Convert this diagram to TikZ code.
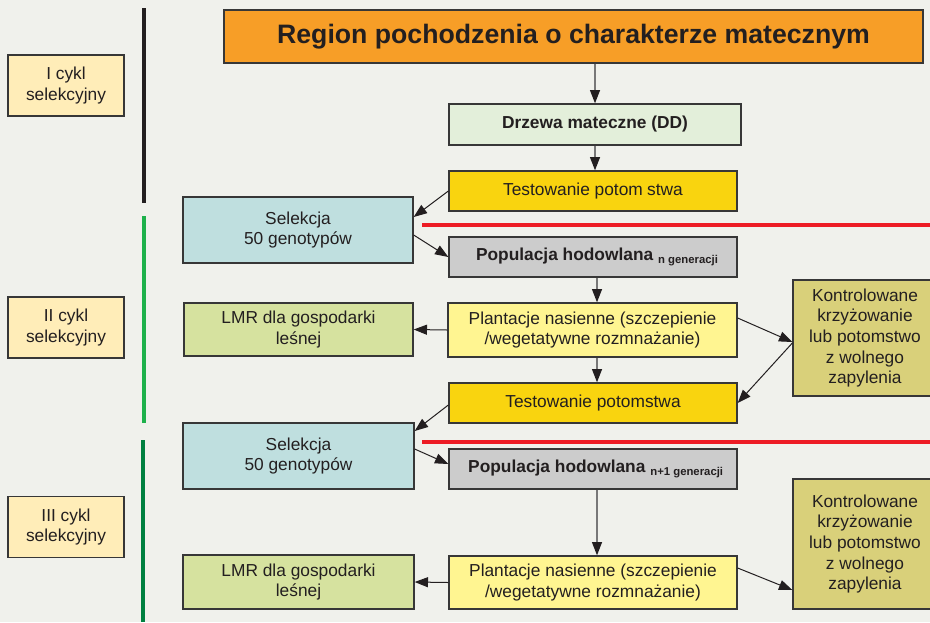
\documentclass[tikz,border=0pt]{standalone}
\usepackage{fontspec}
\setmainfont{Liberation Sans}
\usetikzlibrary{arrows.meta,calc}

\definecolor{bg}{RGB}{240,241,236}
\definecolor{ink}{RGB}{35,31,32}
\definecolor{boxline}{RGB}{55,55,55}
\definecolor{stem}{RGB}{120,120,120}
\definecolor{titleorange}{RGB}{247,158,39}
\definecolor{ddgreen}{RGB}{227,239,218}
\definecolor{testyellow}{RGB}{249,212,15}
\definecolor{selblue}{RGB}{191,223,223}
\definecolor{popgrey}{RGB}{204,204,204}
\definecolor{plantyellow}{RGB}{255,245,145}
\definecolor{lmrgreen}{RGB}{214,226,159}
\definecolor{kontrtan}{RGB}{217,208,122}
\definecolor{cyclecream}{RGB}{255,237,184}
\definecolor{cutred}{RGB}{237,28,37}
\definecolor{cycleone}{RGB}{35,31,32}
\definecolor{cycletwo}{RGB}{29,177,75}
\definecolor{cyclethree}{RGB}{0,128,64}

\begin{document}
\begin{tikzpicture}[x=0.75pt,y=-0.75pt,
  box/.style={draw=boxline, line width=1pt, text=ink, align=center,
    inner sep=0pt, font=\fontsize{13}{15.5}\selectfont},
  sz/.style 2 args={minimum width=#1*0.75pt, minimum height=#2*0.75pt},
  flow/.style={draw=ink, line width=0.75pt,
    -{Triangle[length=10pt,width=7.5pt,color=ink]}},
  stemarrow/.style={draw=stem, line width=1pt,
    -{Triangle[length=10pt,width=7.5pt,color=ink]}},
  cycleline/.style={line width=3pt},
  cutline/.style={draw=cutred, line width=2.5pt}
]
% canvas
\fill[bg] (0,0) rectangle (930,622);
\useasboundingbox (0,0) rectangle (930,622);
\clip (0,0) rectangle (930,622);

% cycle markers on the left
\draw[cycleline, cycleone]   (144,8)   -- (144,203);
\draw[cycleline, cycletwo]   (144,216) -- (144,423);
\draw[cycleline, cyclethree] (143,440) -- (143,622);

\node[box, sz={116}{61}, fill=cyclecream] (c1) at (66,85.5)  {I cykl\\selekcyjny};
\node[box, sz={116}{61}, fill=cyclecream] (c2) at (66,327.5) {II cykl\\selekcyjny};
\node[box, sz={116}{61}, fill=cyclecream] (c3) at (66,527)   {III cykl\\selekcyjny};

% cut lines between cycles
\coordinate (r1a) at (422,225);
\coordinate (r1b) at (930,225);
\coordinate (r2a) at (422,442);
\coordinate (r2b) at (930,442);
\draw[cutline] (r1a) -- (r1b);
\draw[cutline] (r2a) -- (r2b);

% main flow boxes
\node[box, sz={699}{53}, fill=titleorange, font=\fontsize{20}{24}\selectfont\bfseries]
  (title) at (573.5,36.5) {Region pochodzenia o charakterze matecznym};
\node[box, sz={292}{41}, fill=ddgreen, font=\fontsize{13}{15.5}\selectfont\bfseries]
  (dd) at (595,124.5) {Drzewa mateczne (DD)};
\node[box, sz={288}{40}, fill=testyellow] (test1) at (593,191) {Testowanie potom\hspace{0.25em}stwa};
\node[box, sz={230}{66}, fill=selblue] (sel1) at (298,230) {Selekcja\\50 genotypów};
\node[box, sz={288}{40}, fill=popgrey] (pop1) at (593,257)
  {\hspace*{6pt}\textbf{Populacja hodowlana} \raisebox{-2.5pt}{\fontsize{8.5}{10}\selectfont\bfseries n generacji}};
\node[box, sz={289}{54}, fill=plantyellow] (plant1) at (592.5,330)
  {Plantacje nasienne (szczepienie\\/wegetatywne rozmnażanie)};
\node[box, sz={229}{53}, fill=lmrgreen] (lmr1) at (298.5,329.5) {LMR dla gospodarki\\leśnej};
\node[box, sz={144}{116}, fill=kontrtan] (kontr1) at (865,338)
  {Kontrolowane\\krzyżowanie\\lub potomstwo\\z wolnego\\zapylenia};
\node[box, sz={288}{40}, fill=testyellow] (test2) at (593,403) {Testowanie potomstwa};
\node[box, sz={231}{66}, fill=selblue] (sel2) at (298.5,456) {Selekcja\\50 genotypów};
\node[box, sz={288}{40}, fill=popgrey] (pop2) at (593,469)
  {\hspace*{4pt}\textbf{Populacja hodowlana} \raisebox{-2.5pt}{\fontsize{8.5}{10}\selectfont\bfseries n+1 generacji}};
\node[box, sz={288}{53}, fill=plantyellow] (plant2) at (593,582.5)
  {Plantacje nasienne (szczepienie\\/wegetatywne rozmnażanie)};
\node[box, sz={231}{54}, fill=lmrgreen] (lmr2) at (298.5,582) {LMR dla gospodarki\\leśnej};
\node[box, sz={144}{130}, fill=kontrtan] (kontr2) at (865,544)
  {Kontrolowane\\krzyżowanie\\lub potomstwo\\z wolnego\\zapylenia};

% connectors: first cycle
\draw[stemarrow] (title.south -| dd.north) -- (dd.north);
\draw[stemarrow] (dd.south) -- (dd.south |- test1.north);
\draw[flow] (test1.west) -- ($(sel1.east)+(0,-13)$);
\draw[flow] ($(sel1.east)+(0,5)$) -- (pop1.west);

% second cycle
\draw[stemarrow] ($(pop1.south)+(4,0)$) -- ($(plant1.north)+(4.5,0)$);
\draw[flow] (plant1.west) -- (lmr1.east);
\draw[flow] ($(plant1.east)+(0,-12)$) -- ($(kontr1.west)+(0,4)$);
\draw[flow] ($(kontr1.west)+(0,5)$) -- (test2.east);
\draw[stemarrow] ($(plant1.south)+(4.5,0)$) -- ($(test2.north)+(4,0)$);
\draw[flow] ($(test2.west)+(0,2)$) -- ($(sel2.east)+(0,-25)$);
\draw[flow] ($(sel2.east)+(0,-7)$) -- ($(pop2.west)+(0,-5)$);

% third cycle
\draw[stemarrow] ($(pop2.south)+(4,0)$) -- ($(plant2.north)+(4,0)$);
\draw[flow] (plant2.west) -- (lmr2.east);
\draw[flow] ($(plant2.east)+(0,-14.5)$) -- ($(kontr2.west)+(0,46)$);
\end{tikzpicture}
\end{document}
